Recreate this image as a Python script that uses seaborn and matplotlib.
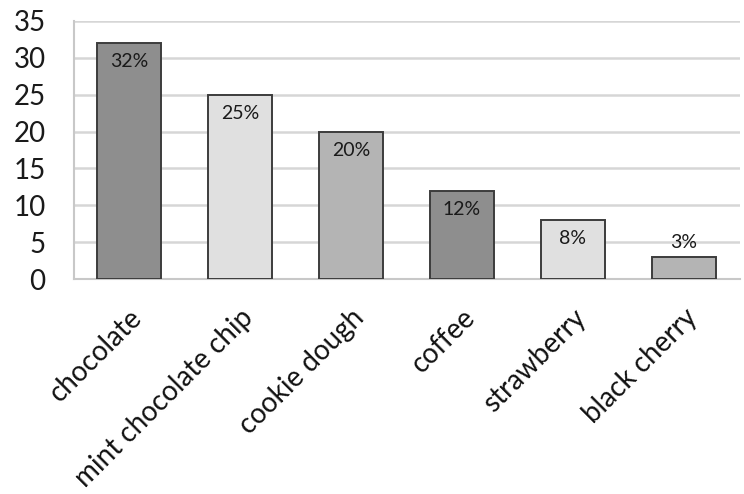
import matplotlib
matplotlib.use("Agg")
import matplotlib.pyplot as plt
import seaborn as sns
import pandas as pd

categories = ["chocolate", "mint chocolate chip", "cookie dough", "coffee", "strawberry", "black cherry"]
values = [32, 25, 20, 12, 8, 3]
labels = ["32%", "25%", "20%", "12%", "8%", "3%"]
bar_colors = ["#8e8e8e", "#e0e0e0", "#b4b4b4", "#8e8e8e", "#e0e0e0", "#b4b4b4"]
y_ticks = [0, 5, 10, 15, 20, 25, 30, 35]

sns.set_style("white")
plt.rcParams["font.family"] = ["Lato", "DejaVu Sans"]

df = pd.DataFrame({"flavor": categories, "votes": values})

fig = plt.figure(figsize=(7.44, 4.94), dpi=100)
ax = fig.add_axes([73.5 / 744, 1 - 279.3 / 494, 666 / 744, (279.3 - 20.7) / 494])

sns.barplot(data=df, x="flavor", y="votes", hue="flavor", palette=bar_colors,
            legend=False, width=0.58, edgecolor="#3c3c3c", linewidth=1.4,
            saturation=1, ax=ax, zorder=3)

ax.set_xlim(-0.5, 5.5)
ax.set_ylim(0, 35)
ax.set_yticks(y_ticks)
ax.set_yticklabels([str(t) for t in y_ticks], fontsize=20, color="#1a1a1a")
ax.tick_params(axis="y", length=0, pad=20)
ax.set_xticks(range(len(categories)))
ax.set_xticklabels(categories, rotation=45, ha="right", rotation_mode="anchor",
                   fontsize=20, color="#111111")
ax.tick_params(axis="x", length=0, pad=18)
ax.set_xlabel("")
ax.set_ylabel("")
ax.grid(axis="y", color="#d6d6d6", linewidth=1.8, zorder=0)
for side in ["top", "right"]:
    ax.spines[side].set_visible(False)
ax.spines["left"].set_color("#c8c8c8")
ax.spines["left"].set_linewidth(1.5)
ax.spines["bottom"].set_color("#c8c8c8")
ax.spines["bottom"].set_linewidth(1.5)

for i, (v, lab) in enumerate(zip(values, labels)):
    if v >= 5:
        ax.text(i, v - 2.5, lab, ha="center", va="center", fontsize=14, color="#1a1a1a", zorder=5)
    else:
        ax.text(i, v + 2.0, lab, ha="center", va="center", fontsize=14, color="#1a1a1a", zorder=5)

fig.savefig("out.png", dpi=100)
